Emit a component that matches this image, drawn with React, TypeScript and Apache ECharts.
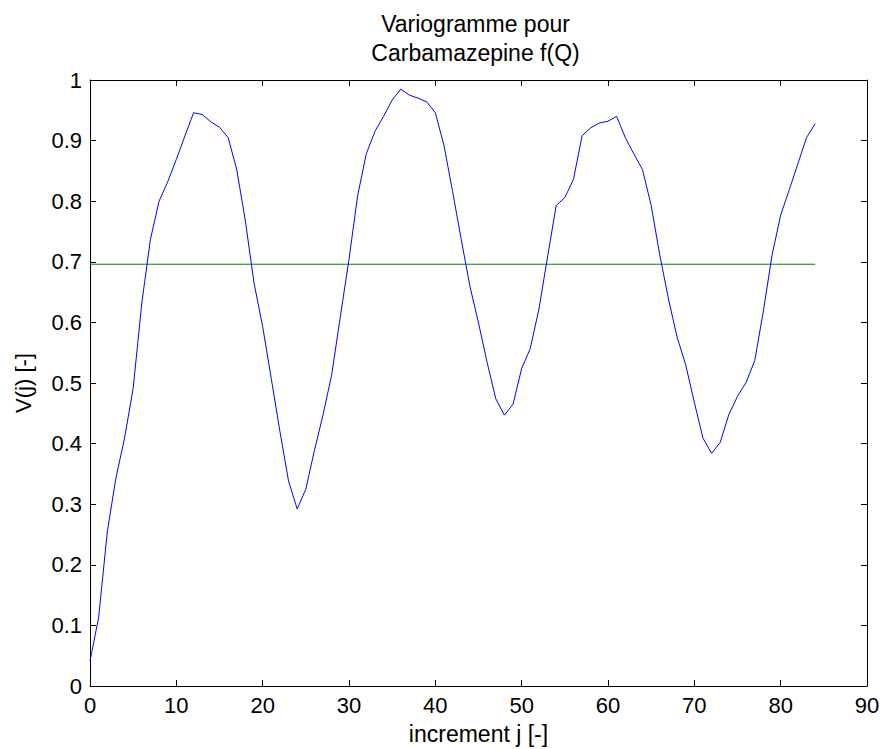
import React, { useEffect, useRef } from "react";
import * as echarts from "echarts";

const variogram: number[] = [
  0.041, 0.113, 0.254, 0.343, 0.409, 0.491, 0.632, 0.737, 0.800, 0.832,
  0.869, 0.908, 0.946, 0.943, 0.931, 0.922, 0.905, 0.852, 0.767, 0.665,
  0.593, 0.507, 0.420, 0.338, 0.292, 0.325, 0.389, 0.448, 0.514, 0.610,
  0.704, 0.809, 0.878, 0.915, 0.940, 0.967, 0.985, 0.975, 0.970, 0.964,
  0.946, 0.892, 0.816, 0.737, 0.660, 0.599, 0.534, 0.474, 0.447, 0.465,
  0.524, 0.557, 0.622, 0.708, 0.793, 0.806, 0.836, 0.908, 0.921, 0.929,
  0.932, 0.940, 0.905, 0.878, 0.852, 0.793, 0.711, 0.639, 0.576, 0.530,
  0.468, 0.409, 0.384, 0.402, 0.448, 0.478, 0.501, 0.537, 0.619, 0.711,
  0.777, 0.819, 0.862, 0.905, 0.928,
];
const sill = 0.696;
const sillRange: number[] = [0, 84];
const titleLines: string[] = ["Variogramme pour", "Carbamazepine f(Q)"];
const xName = "increment j [-]";
const yName = "V(j) [-]";

const FONT = "'Liberation Sans', Arial, sans-serif";

export default function App() {
  const ref = useRef<HTMLDivElement>(null);
  useEffect(() => {
    document.body.style.margin = "0";
    if (!ref.current) return;
    const chart = echarts.init(ref.current, undefined, { renderer: "svg" });
    const gridLeft = 90;
    const gridRight = 18;
    const plotCenter = gridLeft + (885 - gridLeft - gridRight) / 2 - 3;
    const tickCommon = { show: true, inside: true, length: 6, lineStyle: { color: "#000", width: 1 } };
    const lineCommon = { show: true, onZero: false, lineStyle: { color: "#000", width: 1 } };
    chart.setOption({
      animation: false,
      backgroundColor: "#fff",
      grid: {
        left: gridLeft,
        right: gridRight,
        top: 80,
        bottom: 63,
        containLabel: false,
        outerBoundsMode: "none",
      },
      graphic: titleLines.map((t, i) => ({
        type: "text",
        x: plotCenter,
        y: 24 + i * 29,
        style: {
          text: t,
          font: `23px ${FONT}`,
          fill: "#000",
          align: "center",
          verticalAlign: "middle",
        },
      })),
      xAxis: [
        {
          type: "value",
          min: 0,
          max: 90,
          interval: 10,
          position: "bottom",
          name: xName,
          nameLocation: "middle",
          nameGap: 36,
          nameTextStyle: { fontFamily: FONT, fontSize: 23, color: "#000" },
          axisLine: lineCommon,
          axisTick: tickCommon,
          splitLine: { show: false },
          axisLabel: { fontFamily: FONT, fontSize: 22, color: "#000", margin: 8 },
        },
        {
          type: "value",
          min: 0,
          max: 90,
          interval: 10,
          position: "top",
          axisLine: lineCommon,
          axisTick: tickCommon,
          splitLine: { show: false },
          axisLabel: { show: false },
        },
      ],
      yAxis: [
        {
          type: "value",
          min: 0,
          max: 1,
          interval: 0.1,
          position: "left",
          name: yName,
          nameLocation: "middle",
          nameGap: 56,
          nameTextStyle: { fontFamily: FONT, fontSize: 22, color: "#000" },
          axisLine: lineCommon,
          axisTick: tickCommon,
          splitLine: { show: false },
          axisLabel: {
            fontFamily: FONT,
            fontSize: 22,
            color: "#000",
            margin: 8,
            formatter: (v: number) => String(Math.round(v * 10) / 10),
          },
        },
        {
          type: "value",
          min: 0,
          max: 1,
          interval: 0.1,
          position: "right",
          axisLine: lineCommon,
          axisTick: tickCommon,
          splitLine: { show: false },
          axisLabel: { show: false },
        },
      ],
      series: [
        {
          type: "line",
          data: variogram.map((v, i) => [i, v]),
          showSymbol: false,
          symbol: "none",
          lineStyle: { color: "#0000ff", width: 1 },
          z: 3,
        },
        {
          type: "line",
          data: sillRange.map((x) => [x, sill]),
          showSymbol: false,
          symbol: "none",
          lineStyle: { color: "#008000", width: 1 },
          z: 2,
        },
      ],
    });
    return () => chart.dispose();
  }, []);
  return <div ref={ref} style={{ width: 885, height: 749 }} />;
}
